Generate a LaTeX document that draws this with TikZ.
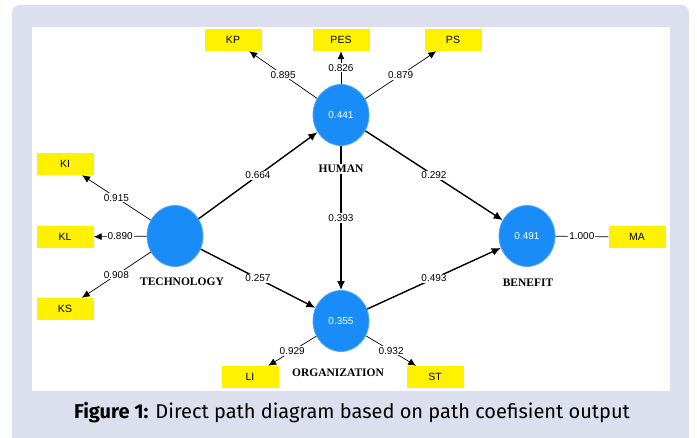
\documentclass[tikz,border=0pt]{standalone}
\usepackage{fontspec}
\usepackage{xcolor}
\usepackage{tikz}
\usetikzlibrary{arrows.meta}
\usetikzlibrary{shapes.geometric}

\newfontfamily\arialfont{Liberation Sans}
\newfontfamily\timesfont{Liberation Serif}
\newfontfamily\captionfont{Fira Sans}
\definecolor{panelblue}{HTML}{DCDFEE}
\definecolor{latentblue}{HTML}{1A8CF7}
\definecolor{latentedge}{HTML}{52A8F2}

\begin{document}
\begin{tikzpicture}[x=1pt, y=-1pt,
latentnode/.style={ellipse, draw=latentedge, fill=latentblue, line width=0.8pt, minimum width=56pt, minimum height=61pt, inner sep=0pt, text=white, font=\arialfont\fontsize{10}{12}\selectfont},
indicatornode/.style={rectangle, fill=yellow, minimum width=57pt, minimum height=22pt, inner sep=0pt, font=\arialfont\fontsize{10.5}{12}\selectfont},
constructname/.style={fill=white, inner sep=1pt, font=\timesfont\bfseries\fontsize{11.5}{13}\selectfont},
coefflabel/.style={fill=white, inner sep=1pt, font=\arialfont\fontsize{10}{11}\selectfont},
pathline/.style={line width=1.4pt, -{Latex[length=9pt,width=8pt]}},
loadline/.style={line width=0.7pt, -{Latex[length=8pt,width=7pt]}},
]
\useasboundingbox (0,0) rectangle (697,438);
% panel
\fill[panelblue, rounded corners=8pt] (12,450) rectangle (689,5);
\fill[white] (32,27) rectangle (670,391);
%Nodes
\node[latentnode] (technology) at (175,236) {};
\node[latentnode] (human)      at (341,115) {0.441};
\node[latentnode] (organization) at (341,321) {0.355};
\node[latentnode] (benefit)    at (527,236) {0.491};

\node[indicatornode] (kp)  at (233,40)  {KP};
\node[indicatornode] (pes) at (341,40)  {PES};
\node[indicatornode] (ps)  at (453,40)  {PS};
\node[indicatornode] (ki)  at (65,164)  {KI};
\node[indicatornode] (kl)  at (65,237)  {KL};
\node[indicatornode] (ks)  at (65,309)  {KS};
\node[indicatornode] (li)  at (250,377) {LI};
\node[indicatornode] (st)  at (435,377) {ST};
\node[indicatornode] (ma)  at (637,237) {MA};
%Lines
\draw[loadline] (human) -- node[coefflabel] {0.895} (kp);
\draw[loadline] (human) -- node[coefflabel] {0.826} (pes);
\draw[loadline] (human) -- node[coefflabel] {0.879} (ps);
\draw[loadline] (technology) -- node[coefflabel] {0.915} (ki);
\draw[loadline] (technology) -- node[coefflabel] {0.890} (kl);
\draw[loadline] (technology) -- node[coefflabel] {0.908} (ks);
\draw[loadline] (organization) -- node[coefflabel] {0.929} (li);
\draw[loadline] (organization) -- node[coefflabel] {0.932} (st);
\draw[line width=0.7pt] (benefit) -- node[coefflabel] {1.000} (ma);

\draw[pathline] (technology) -- node[coefflabel] {0.664} (human);
\draw[pathline] (technology) -- node[coefflabel] {0.257} (organization);
\draw[pathline] (human) -- node[coefflabel] {0.292} (benefit);
\draw[pathline] (human) -- node[coefflabel] {0.393} (organization);
\draw[pathline] (organization) -- node[coefflabel] {0.493} (benefit);

\node[constructname] (technologyname)   at (182,282) {TECHNOLOGY};
\node[constructname] (humanname)        at (341,169) {HUMAN};
\node[constructname] (organizationname) at (338,373) {ORGANIZATION};
\node[constructname] (benefitname)      at (528,283) {BENEFIT};

\node[font=\captionfont\fontsize{20}{22}\selectfont] (caption) at (352,413) {\textbf{Figure 1:} Direct path diagram based on path coefisient output};
\end{tikzpicture}
\end{document}
